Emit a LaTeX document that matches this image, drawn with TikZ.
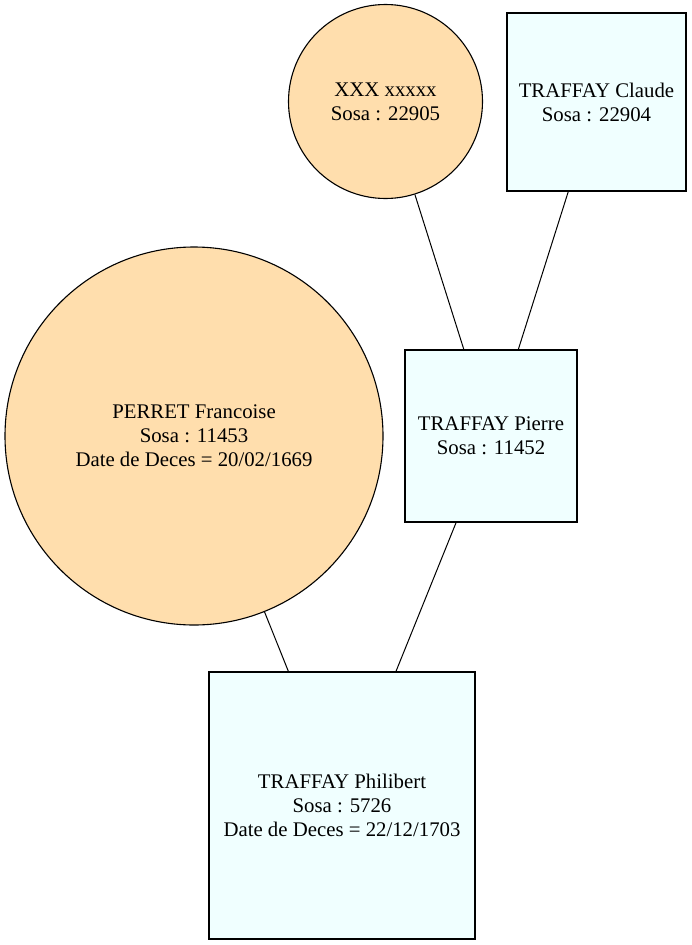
\documentclass[tikz,border=0pt]{standalone}
\usepackage{fontspec}
\setmainfont{Liberation Serif}
\definecolor{womanfill}{RGB}{255,222,173}
\definecolor{manfill}{RGB}{240,255,255}
\begin{document}
\begin{tikzpicture}[x=1pt,y=-1pt,
  person/.style={draw,line width=1.1pt,inner sep=0pt,align=center,
    font=\fontsize{20.8}{24}\selectfont},
  woman/.style={person,circle,fill=womanfill},
  man/.style={person,rectangle,fill=manfill}]
\useasboundingbox (0,0) rectangle (691,945);

\node[man,minimum width=266pt,minimum height=267pt] (philibert) at (342,805.5)
  {TRAFFAY Philibert\\Sosa : 5726\\Date de Deces = 22/12/1703};
\node[woman,minimum size=378pt] (francoise) at (194,436)
  {PERRET Francoise\\Sosa : 11453\\Date de Deces = 20/02/1669};
\node[man,minimum width=172pt,minimum height=172pt] (pierre) at (491,436)
  {TRAFFAY Pierre\\Sosa : 11452};
\node[woman,minimum size=194pt] (xxx) at (385.5,101.5)
  {XXX xxxxx\\Sosa : 22905};
\node[man,minimum width=179pt,minimum height=178pt] (claude) at (596.5,102)
  {TRAFFAY Claude\\Sosa : 22904};

\draw[line width=1pt] (xxx) -- (pierre)
      (claude) -- (pierre)
      (pierre) -- (philibert)
      (francoise) -- (philibert);
\end{tikzpicture}
\end{document}
